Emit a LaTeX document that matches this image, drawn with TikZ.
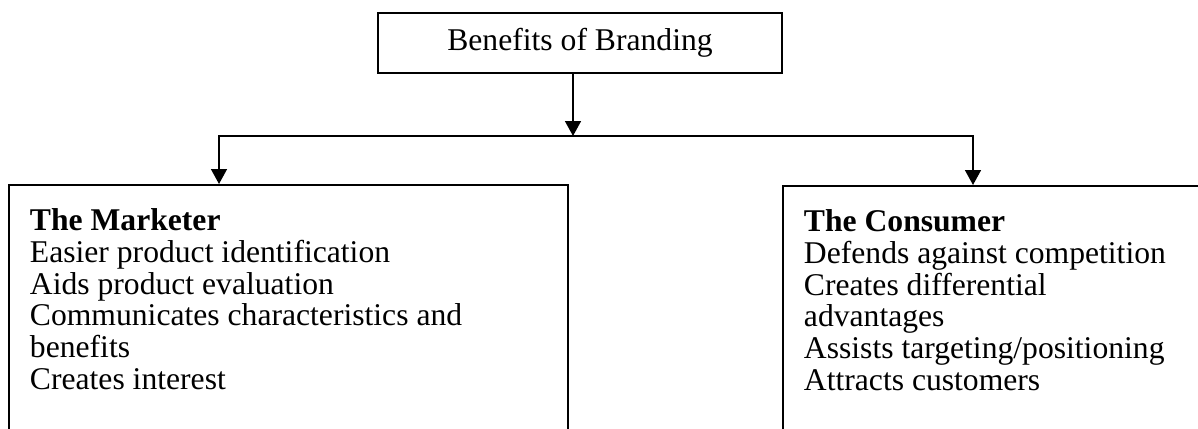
\documentclass[tikz,border=0pt]{standalone}
\usepackage{fontspec}
\setmainfont{Liberation Serif}
\usetikzlibrary{arrows.meta, positioning}

\begin{document}
\begin{tikzpicture}[
    box/.style={draw=black, line width=1.1pt, font=\fontsize{18}{18}\selectfont},
    titlebox/.style={box, minimum width=8.08cm, minimum height=1.20cm, inner sep=0pt},
    sidebox/.style={box, anchor=north west, align=left, inner xsep=0.42cm, inner ysep=0.48cm},
    arrow/.style={{Triangle[length=8.5pt, width=9pt]}-{Triangle[length=8.5pt, width=9pt]}, line width=1.1pt, black},
    drop/.style={-{Triangle[length=8.5pt, width=9pt]}, line width=1.1pt, black}
]
    \newcommand{\sidetext}[1]{\parbox[t][5.6cm][t]{10.34cm}{\raggedright #1}}

    % Frame of the page; the two lower boxes run past it.
    \useasboundingbox (0, 0) rectangle (23.96, -8.56);
    \clip (0, 0) rectangle (23.96, -8.56);

    \node[titlebox] (title) at (11.60, -0.86) {Benefits of Branding};

    \node[sidebox] (marketer) at (0.16, -3.68) {\sidetext{\textbf{The Marketer}\\Easier product identification\\Aids product evaluation\\Communicates characteristics and\\benefits\\Creates interest}};
    \node[sidebox] (consumer) at (15.64, -3.70) {\sidetext{\textbf{The Consumer}\\Defends against competition\\Creates differential\\advantages\\Assists targeting/positioning\\Attracts customers}};

    % Trunk and the split bar.
    \coordinate (branch) at (11.46, -2.72);
    \coordinate (leftturn) at (4.38, -2.72);
    \coordinate (rightturn) at (19.46, -2.72);
    \draw[drop] (title.south -| branch) -- (branch);
    \draw[arrow] (leftturn |- marketer.north) -- (leftturn) -- (rightturn) -- (rightturn |- consumer.north);

\end{tikzpicture}
\end{document}
